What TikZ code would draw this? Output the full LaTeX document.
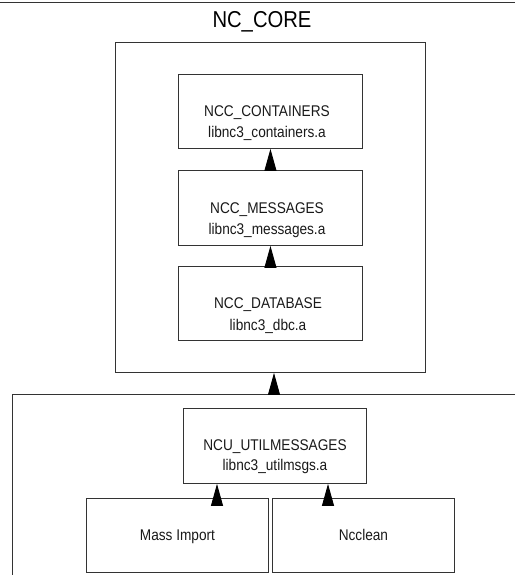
\documentclass[tikz,border=0pt]{standalone}
\usepackage{fontspec}
\setmainfont[FakeStretch=0.88]{Liberation Sans}
\usetikzlibrary{arrows.meta}
\begin{document}
\begin{tikzpicture}[x=1pt,y=-1pt,
  frame/.style={draw=black!80,line width=0.9pt},
  box/.style={frame,rectangle,inner sep=0pt,anchor=north west},
  txt/.style={anchor=base,inner sep=0pt,text=black!90,font=\fontsize{15.5}{18}\selectfont},
  dep/.style={draw=black,line width=0.9pt,-{Triangle[length=22pt,width=12pt]}}]
\useasboundingbox (0,0) rectangle (515,575);
% top rule and title
\draw[frame] (0,2) -- (515,2);
\node[anchor=base,inner sep=0pt,font=\fontsize{23}{26}\selectfont] (title) at (262,28) {NC\_CORE};
% core frame
\node[box,minimum width=310pt,minimum height=330pt] (core) at (115,42) {};
\node[box,minimum width=184pt,minimum height=74pt] (cont) at (178,74) {};
\node[box,minimum width=184pt,minimum height=75pt] (msg) at (178,170) {};
\node[box,minimum width=184pt,minimum height=74pt] (dbc) at (178,266) {};
\node[txt] (contA) at (267,117) {NCC\_CONTAINERS};
\node[txt] (contB) at (267,138) {libnc3\_containers.a};
\node[txt] (msgA) at (267,213) {NCC\_MESSAGES};
\node[txt] (msgB) at (267,234) {libnc3\_messages.a};
\node[txt] (dbcA) at (268,308) {NCC\_DATABASE};
\node[txt] (dbcB) at (268,330) {libnc3\_dbc.a};
% utilities frame (open to right and bottom)
\coordinate (uleft) at (12,394);
\coordinate (uright) at (515,394);
\coordinate (ubot) at (12,575);
\coordinate (ufr) at (274,394);
\draw[frame] (uright) -- (uleft) -- (ubot);
\node[box,minimum width=183pt,minimum height=75pt] (util) at (183,408) {};
\node[txt] (utilA) at (275,450) {NCU\_UTILMESSAGES};
\node[txt] (utilB) at (275,470) {libnc3\_utilmsgs.a};
\node[box,minimum width=182pt,minimum height=74pt] (mass) at (86,498) {};
\node[box,minimum width=182pt,minimum height=74pt] (ncc) at (272,498) {};
\node[txt] (massA) at (mass.center) [yshift=-5pt] {Mass Import};
\node[txt] (nccA) at (ncc.center) [yshift=-5pt] {Ncclean};
% dependencies
\draw[dep] (cont.south |- msg.north) -- (cont.south);
\draw[dep] (msg.south |- dbc.north) -- (msg.south);
\draw[dep] (ufr) -- (ufr |- core.south);
\coordinate (ma) at (217,498);
\coordinate (na) at (328,498);
\draw[dep] (ma) -- (ma |- util.south);
\draw[dep] (na) -- (na |- util.south);
\end{tikzpicture}
\end{document}
